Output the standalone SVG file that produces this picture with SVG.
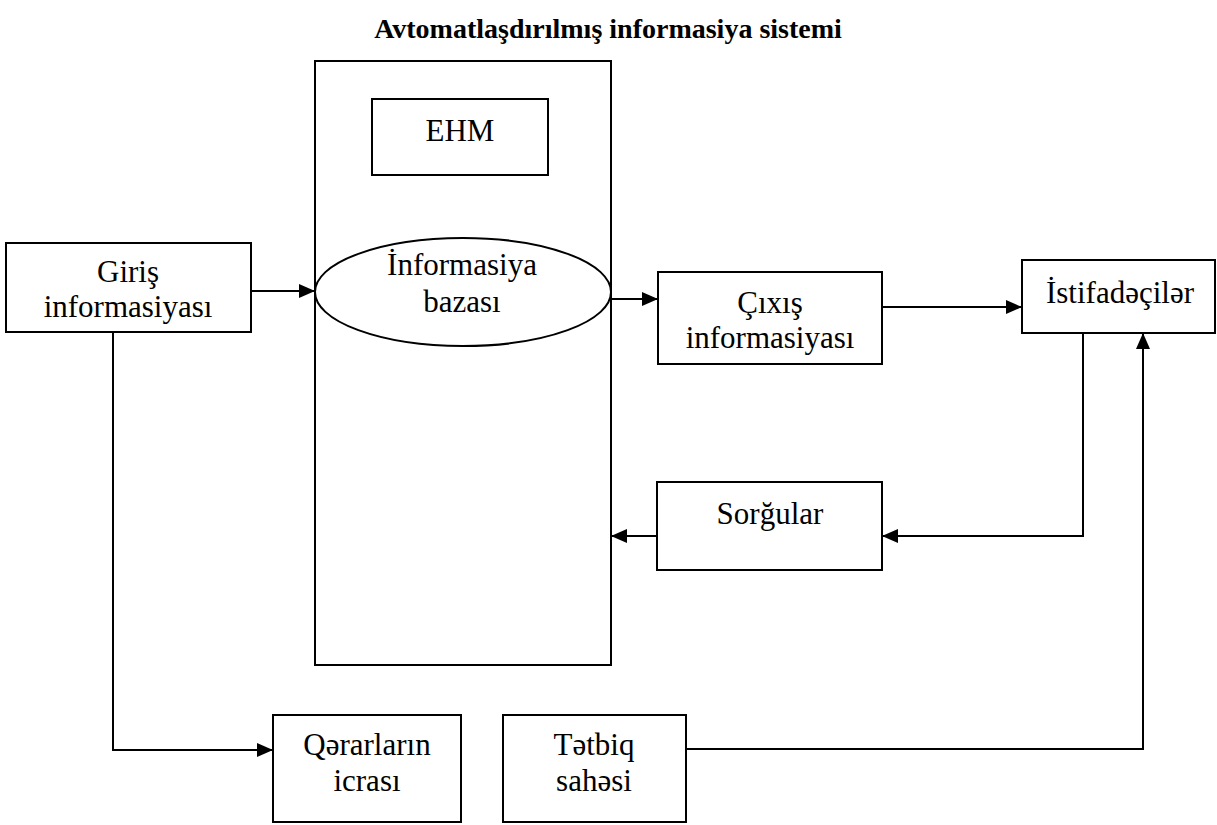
<svg xmlns="http://www.w3.org/2000/svg" width="1217" height="825" viewBox="0 0 1217 825">
<style>
.box{fill:#fff;stroke:#000;stroke-width:2}
text{font-family:'Liberation Serif','DejaVu Serif',serif;fill:#000;text-anchor:middle}
.t{font-size:31px}
.title{font-size:28px;font-weight:bold}
.c{fill:none;stroke:#000;stroke-width:2}
</style>
<defs>
<marker id="arr" viewBox="0 0 16 14" refX="16" refY="7" markerWidth="16" markerHeight="14" markerUnits="userSpaceOnUse" orient="auto">
<path d="M0,0 L16,7 L0,14 Z" fill="#000"/>
</marker>
</defs>
<text class="title" x="608" y="38" font-family="Liberation Serif, serif">Avtomatlaşdırılmış informasiya sistemi</text>
<g id="ais">
<rect class="box" x="315" y="61" width="296" height="604"/>
</g>
<g id="ehm">
<rect class="box" x="372" y="99" width="176" height="76"/>
<text class="t" x="460" y="141" font-family="Liberation Serif, serif">EHM</text>
</g>
<g id="baza">
<ellipse class="box" cx="463" cy="292" rx="148" ry="54"/>
<text class="t" x="462" y="275" font-family="Liberation Serif, serif">İnformasiya</text>
<text class="t" x="462" y="312" font-family="Liberation Serif, serif">bazası</text>
</g>
<g id="giris">
<rect class="box" x="6" y="243" width="245" height="89"/>
<text class="t" x="128" y="282" font-family="Liberation Serif, serif">Giriş</text>
<text class="t" x="128" y="317" font-family="Liberation Serif, serif">informasiyası</text>
</g>
<g id="cixis">
<rect class="box" x="658" y="272" width="224" height="92"/>
<text class="t" x="770" y="313" font-family="Liberation Serif, serif">Çıxış</text>
<text class="t" x="770" y="348" font-family="Liberation Serif, serif">informasiyası</text>
</g>
<g id="istifadeciler">
<rect class="box" x="1022" y="260" width="193" height="73"/>
<text class="t" x="1120" y="303" font-family="Liberation Serif, serif">İstifadəçilər</text>
</g>
<g id="sorgular">
<rect class="box" x="657" y="482" width="225" height="88"/>
<text class="t" x="770" y="524" font-family="Liberation Serif, serif">Sorğular</text>
</g>
<g id="qerarlar">
<rect class="box" x="273" y="715" width="188" height="107"/>
<text class="t" x="367" y="755" font-family="Liberation Serif, serif">Qərarların</text>
<text class="t" x="367" y="791" font-family="Liberation Serif, serif">icrası</text>
</g>
<g id="tetbiq">
<rect class="box" x="503" y="715" width="183" height="107"/>
<text class="t" x="594" y="755" font-family="Liberation Serif, serif">Tətbiq</text>
<text class="t" x="594" y="791" font-family="Liberation Serif, serif">sahəsi</text>
</g>
<g id="connectors">
<path class="c" d="M251,291 L315,291" marker-end="url(#arr)"/>
<path class="c" d="M611,299 L658,299" marker-end="url(#arr)"/>
<path class="c" d="M882,307 L1022,307" marker-end="url(#arr)"/>
<path class="c" d="M1083,333 L1083,536 L882,536" marker-end="url(#arr)"/>
<path class="c" d="M657,536 L611,536" marker-end="url(#arr)"/>
<path class="c" d="M113,332 L113,750 L273,750" marker-end="url(#arr)"/>
<path class="c" d="M686,749 L1143,749 L1143,333" marker-end="url(#arr)"/>
</g>
</svg>
